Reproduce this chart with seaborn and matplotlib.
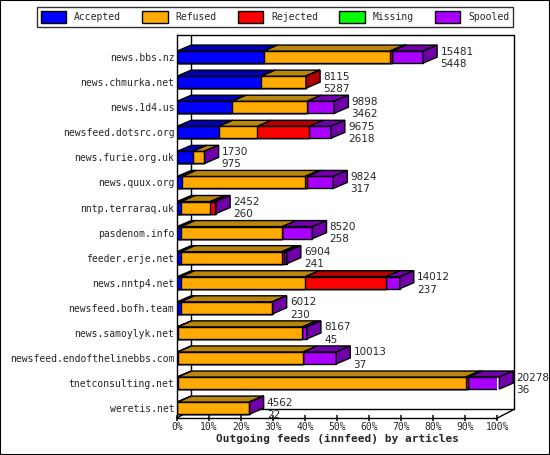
import matplotlib
matplotlib.use("Agg")
import matplotlib.pyplot as plt
from matplotlib.patches import Polygon, Patch
import seaborn as sns
import pandas as pd
import numpy as np

# feeds and article counts
feeds = ["news.bbs.nz", "news.chmurka.net", "news.1d4.us", "newsfeed.dotsrc.org",
         "news.furie.org.uk", "news.quux.org", "nntp.terraraq.uk", "pasdenom.info",
         "feeder.erje.net", "news.nntp4.net", "newsfeed.bofh.team", "news.samoylyk.net",
         "newsfeed.endofthelinebbs.com", "tnetconsulting.net", "weretis.net"]
totals = [15481, 8115, 9898, 9675, 1730, 9824, 2452, 8520, 6904, 14012, 6012, 8167, 10013, 20278, 4562]
accepted = [5448, 5287, 3462, 2618, 975, 317, 260, 258, 241, 237, 230, 45, 37, 36, 22]
refused = [7960, 2800, 4720, 2440, 725, 7740, 1835, 6360, 6350, 7820, 5760, 7840, 7900, 18140, 4510]
rejected = [120, 28, 0, 3265, 0, 120, 280, 0, 120, 5080, 0, 0, 0, 160, 0]
missing = [0] * 15
spooled = [t - a - f - r - m for t, a, f, r, m in zip(totals, accepted, refused, rejected, missing)]

labels = ["Accepted", "Refused", "Rejected", "Missing", "Spooled"]
front = ["#0000ff", "#ffaa00", "#ff0000", "#00ff00", "#aa00ff"]
top = ["#0000b0", "#b8860b", "#b00000", "#00b000", "#7000a8"]

series = [accepted, refused, rejected, missing, spooled]
scale = 100.0 / 20150
pct = np.array(series, dtype=float) * scale
cum = np.cumsum(pct, axis=0)

sns.set_theme(style="white")
plt.rcParams['font.family'] = ['DejaVu Sans Mono']
fig = plt.figure(figsize=(5.5, 4.55), dpi=100)
ax = fig.add_axes([0.322, 0.081, 0.582, 0.842])

h = 0.48
dx, dy = 4.4, 0.24

# front faces, longest stack first
for j in range(4, -1, -1):
    df = pd.DataFrame({"feed": feeds, "v": cum[j]})
    sns.barplot(data=df, x="v", y="feed", color=front[j], width=h, orient="h",
                edgecolor="black", linewidth=1, saturation=1, ax=ax, zorder=3)

# 3D tops and sides
for i, name in enumerate(feeds):
    y0 = i - h / 2
    left = 0
    last = 0
    for j in range(5):
        w = pct[j, i]
        if w <= 0:
            continue
        r = left + w
        ax.add_patch(Polygon([(left, y0), (r, y0), (r + dx, y0 - dy), (left + dx, y0 - dy)],
                             closed=True, fc=top[j], ec="black", lw=1, zorder=4, clip_on=False))
        left = r
        last = j
    ax.add_patch(Polygon([(left, y0), (left + dx, y0 - dy), (left + dx, y0 + h - dy), (left, y0 + h)],
                         closed=True, fc=top[last], ec="black", lw=1, zorder=4, clip_on=False))
    ax.text(left + dx + 1.0, i - 0.22, str(totals[i]), fontsize=7.5, va="center", ha="left",
            family="DejaVu Sans", zorder=5)
    ax.text(left + dx + 1.0, i + 0.27, str(accepted[i]), fontsize=7.5, va="center", ha="left",
            family="DejaVu Sans", zorder=5)

ax.set_xlim(0, 100)
ax.set_ylim(14.4, -0.88)
ax.set_xticks(range(0, 101, 10))
ax.set_xticklabels([f"{t}%" for t in range(0, 101, 10)], fontsize=7)
ax.tick_params(axis="x", length=4, direction="inout", bottom=True, pad=1)
ax.tick_params(axis="y", length=0, labelsize=7.0, pad=2)
ax.set_ylabel("")
ax.set_xlabel("Outgoing feeds (innfeed) by articles", fontsize=8, fontweight="bold", labelpad=1)
for s in ["top", "right"]:
    ax.spines[s].set_visible(False)
for s in ["left", "bottom"]:
    ax.spines[s].set_color("black")
    ax.spines[s].set_linewidth(1)

# back wall and floor edges
fy = 14.4 - dy * 1.5
ax.plot([dx, dx], [-0.88, fy], color="black", lw=1, clip_on=False, zorder=1)
ax.plot([dx, 100 + dx + 1], [fy, fy], color="black", lw=1, clip_on=False, zorder=1)
ax.plot([0, dx], [14.4, fy], color="black", lw=1, clip_on=False, zorder=1)
ax.plot([100, 100 + dx + 1], [14.4, fy], color="black", lw=1, clip_on=False, zorder=1)
ax.plot([100 + dx + 1, 100 + dx + 1], [-0.88, fy], color="black", lw=1, clip_on=False, zorder=1)
ax.plot([0, 100 + dx + 1], [-0.88, -0.88], color="black", lw=1, clip_on=False, zorder=1)

handles = [Patch(fc=front[j], ec="black", label=labels[j]) for j in range(5)]
leg = fig.legend(handles=handles, loc="upper center", ncol=5, bbox_to_anchor=(0.5, 0.995),
                 fontsize=7, frameon=True, edgecolor="black", fancybox=False,
                 handlelength=2.6, handleheight=1.5, columnspacing=2.2, borderpad=0.4)
leg.get_frame().set_linewidth(1)

fig.patches.append(plt.Rectangle((0, 0), 1, 1, transform=fig.transFigure, fill=False,
                                 ec="black", lw=1.5))
fig.savefig("out.png", dpi=100)
